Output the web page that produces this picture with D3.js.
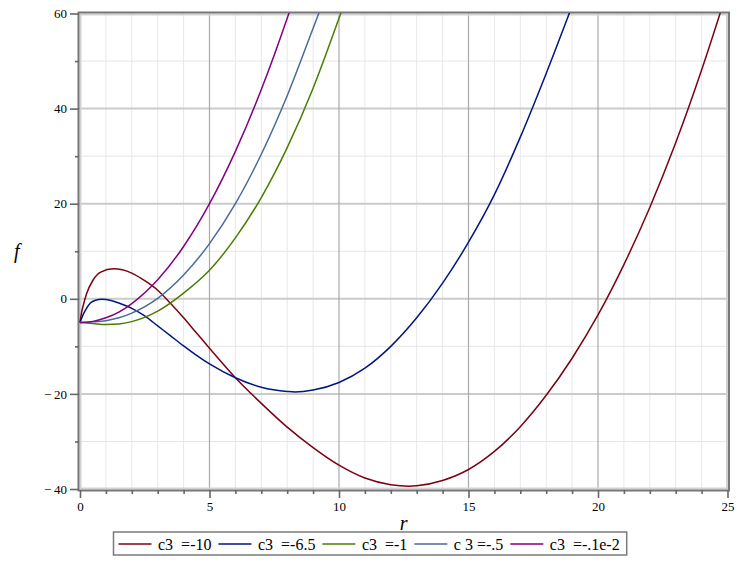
<html>
<head>
    <script src="https://d3js.org/d3.v7.min.js"></script>
    <style>
        body { margin: 0; background: #fff; }
        text { font-family: "Liberation Serif", "Times New Roman", "DejaVu Serif", serif; }
    </style>
</head>
<body>
    <svg id="chart" width="740" height="572"></svg>

    <script>
    // values, [r, f]
    const curveM10 = [[0,-5],[0.05,-3.2],[0.13,-1.3],[0.25,1.0],[0.5,3.9],[0.8,5.6],[1.3,6.3],[2,5.4],[2.5,3.8],[3,1.8],[3.5,-1.0],[4,-4.0],[4.5,-7.2],[5,-10.4],[6,-16.6],[7,-22.0],[8,-27.0],[9,-31.3],[10,-35.0],[11,-37.7],[12,-39.1],[12.7,-39.4],[13,-39.3],[14,-38.2],[15,-35.9],[16,-32.1],[17,-26.9],[18,-20.3],[19,-12.5],[20,-3.4],[21,7.2],[22,19.2],[23,32.8],[24,48.1],[24.8,61.5]];
    const curveM65 = [[0,-5],[0.1,-3.6],[0.2,-2.5],[0.4,-0.9],[0.6,-0.3],[0.84,-0.1],[1.2,-0.35],[1.5,-0.9],[2,-2.0],[2.5,-3.6],[3,-5.7],[3.5,-7.8],[4,-9.9],[4.5,-11.9],[5,-13.7],[6,-16.6],[7,-18.6],[8,-19.5],[8.3,-19.6],[9,-19.2],[10,-17.6],[11,-14.6],[12,-10.0],[13,-4.0],[14,3.3],[15,11.9],[16,21.9],[17,34.0],[18,47.4],[19,61.6]];
    const curveM1 = [[0,-5],[0.5,-5.2],[1,-5.4],[1.5,-5.3],[2,-4.8],[3,-2.6],[4,1.2],[5,6.0],[6,12.8],[7,21.3],[8,31.8],[9,44.3],[10,59],[10.1,60.5]];
    const curveM05 = [[0,-5],[0.5,-4.85],[1,-4.6],[1.5,-4.0],[2,-3.0],[3,0.1],[4,5.0],[5,11.6],[6,20.0],[7,30.4],[8,42.7],[9,56.9],[9.3,61.2]];
    const curveM001 = [[0,-5],[0.5,-4.75],[1,-4.0],[1.5,-2.8],[2,-1.0],[3,4.0],[4,11.0],[5,20.0],[6,31.0],[7,44.0],[8,59.0],[8.15,61.4]];

    const seriesNames = ["c3  =-10", "c3  =-6.5", "c3  =-1", "c 3 =-.5", "c3  =-.1e-2"];
    const seriesColors = ["#7c0014", "#001680", "#4a7c00", "#4a6a9c", "#820082"];
    const allCurves = [curveM10, curveM65, curveM1, curveM05, curveM001];

    const xTicks = [0, 5, 10, 15, 20, 25];
    const yTicks = [-40, -20, 0, 20, 40, 60];

    const svg = d3.select("#chart");

    const x = d3.scaleLinear().domain([0, 25]).range([80, 727.5]);
    const y = d3.scaleLinear().domain([-40, 60]).range([489, 13.5]);

    // grid
    const grid = svg.append("g");
    const xMinor = d3.range(1, 25).filter(d => d % 5 != 0);
    const yMinor = [-30, -10, 10, 30, 50];
    grid.selectAll(".vminor").data(xMinor).join("line")
        .attr("x1", d => x(d)).attr("x2", d => x(d))
        .attr("y1", 13).attr("y2", 490)
        .attr("stroke", "#e8e8e8").attr("stroke-width", 1);
    grid.selectAll(".hminor").data(yMinor).join("line")
        .attr("y1", d => y(d)).attr("y2", d => y(d))
        .attr("x1", 79).attr("x2", 729)
        .attr("stroke", "#e6e6e6").attr("stroke-width", 1);
    grid.selectAll(".hmajor").data([-20, 0, 20, 40]).join("line")
        .attr("y1", d => y(d)).attr("y2", d => y(d))
        .attr("x1", 79).attr("x2", 729)
        .attr("stroke", "#cbcbcb").attr("stroke-width", 2);
    grid.selectAll(".vmajor").data([5, 10, 15, 20]).join("line")
        .attr("x1", d => x(d)).attr("x2", d => x(d))
        .attr("y1", 13).attr("y2", 490)
        .attr("stroke", "#aaaaaa").attr("stroke-width", 1.2);

    // frame: light inner band + dark outer line
    svg.append("rect").attr("x", 80.5).attr("y", 14.5).attr("width", 646.5).attr("height", 474)
        .attr("fill", "none").attr("stroke", "#d2d2d2").attr("stroke-width", 2);
    svg.append("rect").attr("x", 78.5).attr("y", 12.5).attr("width", 650.5).attr("height", 478)
        .attr("fill", "none").attr("stroke", "#777").attr("stroke-width", 2);

    // curves
    svg.append("clipPath").attr("id", "plotclip")
        .append("rect").attr("x", 79).attr("y", 13).attr("width", 650).attr("height", 477);

    const line = d3.line().x(d => x(d[0])).y(d => y(d[1])).curve(d3.curveMonotoneX);
    svg.append("g").attr("clip-path", "url(#plotclip)")
        .selectAll("path").data(allCurves).join("path")
        .attr("d", line)
        .attr("fill", "none")
        .attr("stroke", (d, i) => seriesColors[i])
        .attr("stroke-width", 1.5);

    // axes
    const fmt = d => d < 0 ? "\u2212\u2009" + Math.abs(d) : String(d);
    const yAxis = svg.append("g").attr("transform", "translate(79,0)")
        .call(d3.axisLeft(y).tickValues(yTicks).tickSize(9).tickPadding(3).tickFormat(fmt));
    const yAxisMinor = svg.append("g").attr("transform", "translate(79,0)")
        .call(d3.axisLeft(y).tickValues(yMinor).tickSize(4).tickFormat(""));
    const xAxis = svg.append("g").attr("transform", "translate(0,490)")
        .call(d3.axisBottom(x).tickValues(xTicks).tickSize(8).tickPadding(4).tickFormat(fmt));
    const xAxisMinor = svg.append("g").attr("transform", "translate(0,490)")
        .call(d3.axisBottom(x).tickValues(xMinor).tickSize(4).tickFormat(""));

    [yAxis, yAxisMinor, xAxis, xAxisMinor].forEach(a => {
        a.select(".domain").remove();
        a.selectAll("line").attr("stroke", "#666").attr("stroke-width", 1.6);
        a.selectAll("text").attr("font-family", "Liberation Serif").attr("font-size", 13).attr("fill", "#000");
    });

    // axis titles
    svg.append("text").attr("x", 14).attr("y", 258)
        .attr("font-size", 20).attr("font-style", "italic").text("f");
    svg.append("text").attr("x", 403.7).attr("y", 530).attr("text-anchor", "middle")
        .attr("font-size", 20).attr("font-style", "italic").text("r");

    // legend
    const legend = svg.append("g");
    const legendBox = legend.append("rect")
        .attr("x", 113.5).attr("y", 532).attr("width", 511.5).attr("height", 23)
        .attr("fill", "#fff").attr("stroke", "#7a7a7a").attr("stroke-width", 1.5);
    let lx = 118.5;
    seriesNames.forEach((name, i) => {
        legend.append("line")
            .attr("x1", lx).attr("x2", lx + 33)
            .attr("y1", 544).attr("y2", 544)
            .attr("stroke", seriesColors[i]).attr("stroke-width", 1.5);
        const t = legend.append("text")
            .attr("x", lx + 39.5).attr("y", 549.5)
            .attr("font-size", 16)
            .style("white-space", "pre")
            .text(name);
        lx = lx + 39.5 + t.node().getComputedTextLength() + 7;
    });
    legendBox.attr("width", lx - 113.5);
    </script>
</body>
</html>
